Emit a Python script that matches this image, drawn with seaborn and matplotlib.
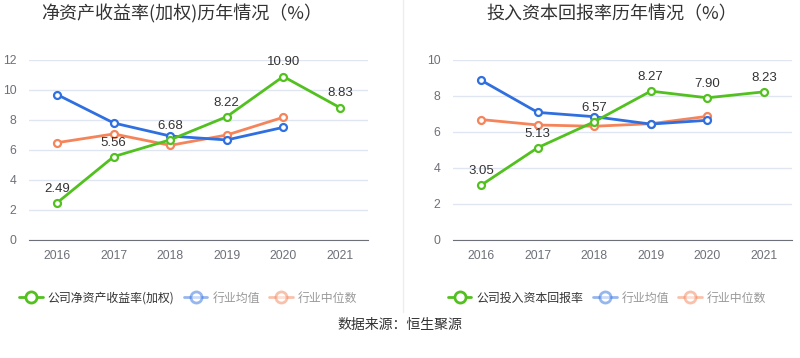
import matplotlib
matplotlib.use("Agg")
import matplotlib.pyplot as plt
from matplotlib.lines import Line2D
import seaborn as sns
import pandas as pd

years = ["2016", "2017", "2018", "2019", "2020", "2021"]

roe_company = [2.49, 5.56, 6.68, 8.22, 10.90, 8.83]
roe_ind_mean = [9.69, 7.80, 6.93, 6.67, 7.51, None]
roe_ind_median = [6.49, 7.07, 6.31, 7.00, 8.18, None]

roic_company = [3.05, 5.13, 6.57, 8.27, 7.90, 8.23]
roic_ind_mean = [8.87, 7.09, 6.85, 6.44, 6.65, None]
roic_ind_median = [6.69, 6.39, 6.32, 6.46, 6.87, None]

left_title = "净资产收益率(加权)历年情况（%）"
right_title = "投入资本回报率历年情况（%）"
left_labels = ["公司净资产收益率(加权)", "行业均值", "行业中位数"]
right_labels = ["公司投入资本回报率", "行业均值", "行业中位数"]
source_text = "数据来源：恒生聚源"

GREEN = "#52c11f"
BLUE = "#2f6fe0"
ORANGE = "#f5845a"
colors = [GREEN, BLUE, ORANGE]

sns.set_style("white")
plt.rcParams["font.family"] = ["Noto Sans CJK SC", "DejaVu Sans"]

fig = plt.figure(figsize=(8, 3.58), dpi=100)
W, H = 800, 358


def make_ax(x0, x1, y0, y1):
    return fig.add_axes([x0 / W, 1 - y1 / H, (x1 - x0) / W, (y1 - y0) / H])


def draw(ax, series, labels, ymax, step, title, title_x):
    rows = []
    for name, vals in zip(labels, series):
        for i, v in enumerate(vals):
            if v is not None:
                rows.append({"x": i, "value": v, "series": name})
    df = pd.DataFrame(rows)
    sns.lineplot(data=df, x="x", y="value", hue="series", palette=dict(zip(labels, colors)),
                 hue_order=labels[::-1], ax=ax, linewidth=2, marker="o", markersize=5,
                 markerfacecolor="white", markeredgewidth=1.6, legend=False)
    for line in ax.get_lines():
        line.set_markeredgecolor(line.get_color())
    comp = series[0]
    for i, v in enumerate(comp):
        ax.text(i, v + ymax * 0.045, f"{v:.2f}", ha="center", va="bottom", fontsize=9.5,
                color="#333333", family=["Liberation Sans", "DejaVu Sans"])
    ax.set_xlim(-0.5, 5.5)
    ax.set_ylim(0, ymax)
    ax.set_yticks(range(0, ymax + 1, step))
    ax.set_xticks(range(6))
    ax.set_xticklabels(years)
    ax.set_xlabel("")
    ax.set_ylabel("")
    for s in ["top", "right", "left"]:
        ax.spines[s].set_visible(False)
    ax.spines["bottom"].set_color("#6e7079")
    ax.grid(axis="y", color="#e0e6f1", linewidth=1)
    ax.set_axisbelow(True)
    ax.tick_params(axis="x", colors="#6e7079", length=4, width=1, labelsize=8.8, pad=3,
                   labelcolor="#6e7079")
    ax.tick_params(axis="y", length=0, labelsize=8.8, labelcolor="#6e7079", pad=9)
    for t in ax.get_xticklabels() + ax.get_yticklabels():
        t.set_fontfamily(["Liberation Sans", "DejaVu Sans"])
    fig.text(title_x / W, 1 - 14 / H, title, ha="center", va="center", fontsize=13,
             color="#333333")


ax1 = make_ax(29, 368, 60, 240)
draw(ax1, [roe_company, roe_ind_mean, roe_ind_median], left_labels, 12, 2, left_title, 182)
ax2 = make_ax(453, 792, 60, 240)
draw(ax2, [roic_company, roic_ind_mean, roic_ind_median], right_labels, 10, 2, right_title, 612)


def legend(labels, cx):
    handles = []
    for c, a in zip(colors, [1, 0.5, 0.5]):
        handles.append(Line2D([0], [0], color=c, alpha=a, linewidth=2, marker="o", markersize=8,
                              markerfacecolor="white", markeredgecolor=c, markeredgewidth=2))
    leg = fig.legend(handles, labels, loc="center", bbox_to_anchor=(cx / W, 1 - 298 / H),
                     ncol=3, frameon=False, fontsize=8.6, handlelength=2.0, handletextpad=0.4,
                     columnspacing=0.8, borderpad=0, borderaxespad=0)
    for i, t in enumerate(leg.get_texts()):
        t.set_color("#333333" if i == 0 else "#999999")


legend(left_labels, 188)
legend(right_labels, 607)

fig.add_artist(Line2D([403 / W, 403 / W], [1 - 0 / H, 1 - 312 / H], color="#eeeeee", linewidth=1))
fig.text(400 / W, 1 - 325 / H, source_text, ha="center", va="center", fontsize=10, color="#333333")

fig.savefig("out.png", dpi=100)
